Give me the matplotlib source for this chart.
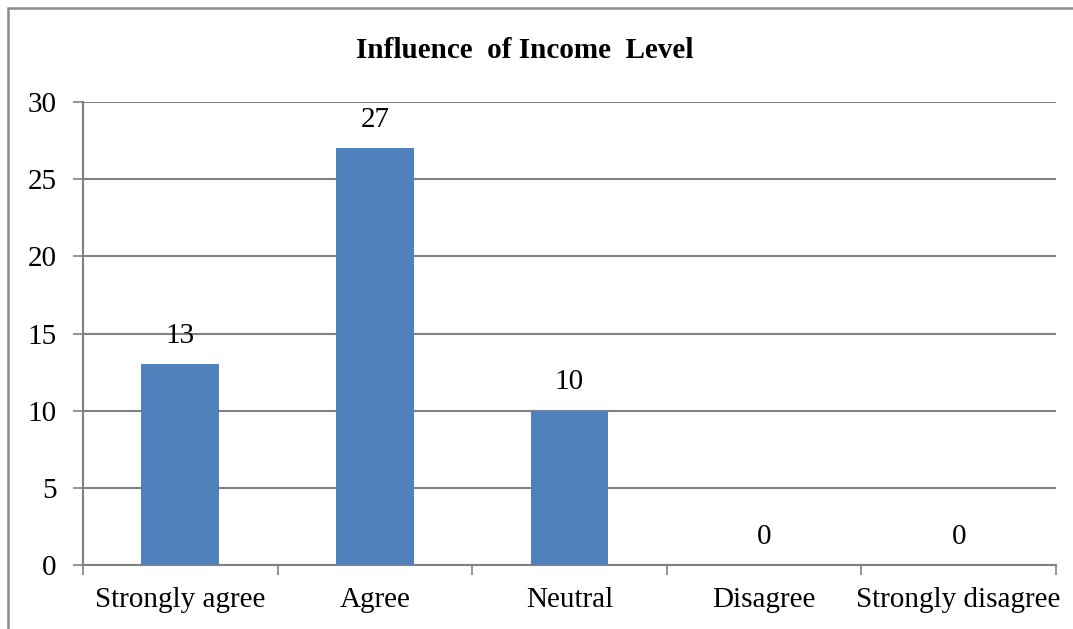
import matplotlib
matplotlib.use("Agg")
import matplotlib.pyplot as plt
from matplotlib.patches import Rectangle
import numpy as np

# survey responses
categories = ["Strongly agree", "Agree", "Neutral", "Disagree", "Strongly disagree"]
counts = [13, 27, 10, 0, 0]
y_ticks = [0, 5, 10, 15, 20, 25, 30]

plt.rcParams['font.family'] = ['Liberation Serif', 'DejaVu Serif']

fig = plt.figure(figsize=(10.73, 6.29), dpi=100)
ax = fig.add_axes([0.0774, 0.1017, 0.9067, 0.7361])

grey = '#808080'
x = np.arange(len(categories))
bars = ax.bar(x, counts, width=0.4, color='#4F81BD', zorder=3)
ax.bar_label(bars, labels=[str(c) for c in counts], padding=11, fontsize=21)

ax.set_xlim(-0.5, len(categories) - 0.5)
ax.set_ylim(0, 30)
ax.set_yticks(y_ticks)
ax.set_yticklabels([str(t) for t in y_ticks], fontsize=21)
ax.yaxis.grid(True, color=grey, linewidth=1.5, zorder=0)
ax.tick_params(axis='y', length=7, width=1.2, color=grey, pad=12)

# category labels centred, tick marks on the boundaries
ax.set_xticks(x)
ax.set_xticklabels(categories, fontsize=21)
ax.set_xticks(np.arange(-0.5, len(categories)), minor=True)
ax.tick_params(axis='x', which='major', length=0, pad=16)
ax.tick_params(axis='x', which='minor', length=7, width=1.2, color=grey)

for side in ['top', 'right']:
    ax.spines[side].set_visible(False)
for side in ['left', 'bottom']:
    ax.spines[side].set_color(grey)
    ax.spines[side].set_linewidth(1.5)

fig.text(0.489, 0.92, "Influence  of Income  Level", ha='center', va='center',
         fontsize=21, fontweight='bold')

# chart frame
fig.patches.append(Rectangle((0.0075, -0.05), 1.05, 1.0373, transform=fig.transFigure,
                             fill=False, edgecolor='#8c8c8c', linewidth=1.8))

fig.savefig("out.png", dpi=100)
